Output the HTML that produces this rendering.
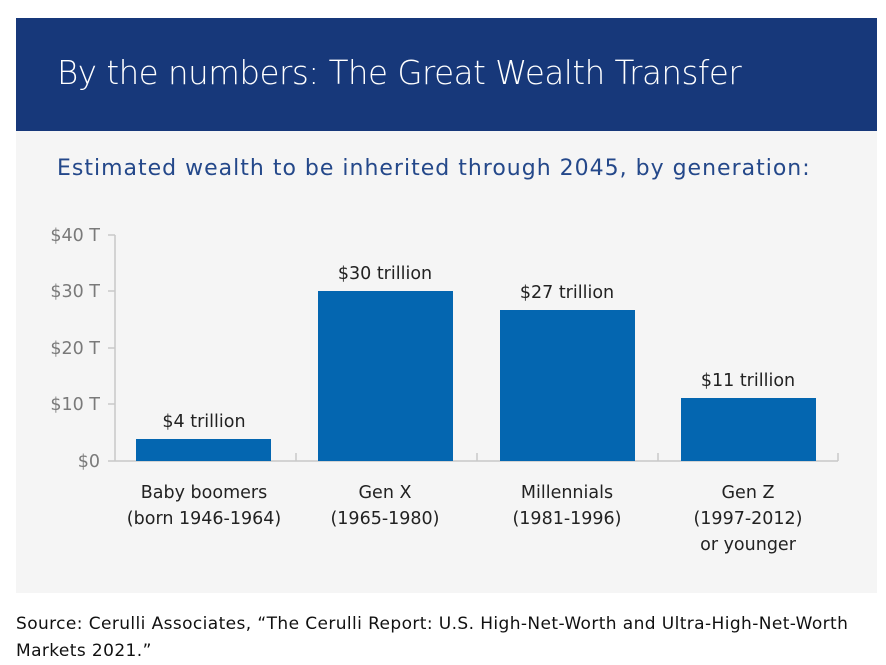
<!DOCTYPE html>
<html><head><style>
body{margin:0;width:886px;height:661px;background:#fff;font-family:"DejaVu Sans","Liberation Sans",sans-serif;position:relative;overflow:hidden}
.hdr{position:absolute;left:16px;top:18px;width:861px;height:113px;background:#17387a}
.hdr div{position:absolute;left:41px;top:36px;color:#fff;font-size:32.5px;font-weight:300;letter-spacing:-0.5px}
.panel{position:absolute;left:16px;top:131px;width:861px;height:462px;background:#f5f5f5}
.sub{position:absolute;left:57px;top:156px;font-size:22px;color:#24488a;letter-spacing:1px}
.src{position:absolute;left:16px;top:611px;font-size:17px;color:#111;line-height:27px;letter-spacing:0.4px}
svg text{font-family:"DejaVu Sans","Liberation Sans",sans-serif}
</style></head><body>
<div class="hdr"><div>By the numbers: The Great Wealth Transfer</div></div>
<div class="panel"></div>
<div class="sub">Estimated wealth to be inherited through 2045, by generation:</div>
<svg width="886" height="661" style="position:absolute;left:0;top:0">
<g stroke="#c8c8c8" stroke-width="1.5" fill="none">
<line x1="115" y1="235" x2="115" y2="461"/>
<line x1="108" y1="461" x2="838" y2="461"/>
<line x1="108" y1="235" x2="115" y2="235"/>
<line x1="108" y1="291" x2="115" y2="291"/>
<line x1="108" y1="348" x2="115" y2="348"/>
<line x1="108" y1="404" x2="115" y2="404"/>
<line x1="296" y1="453" x2="296" y2="461"/>
<line x1="477" y1="453" x2="477" y2="461"/>
<line x1="658" y1="453" x2="658" y2="461"/>
<line x1="838" y1="453" x2="838" y2="461"/>
</g>
<g fill="#7a7a7a" font-size="17.5" text-anchor="end">
<text x="100" y="241">$40 T</text>
<text x="100" y="297">$30 T</text>
<text x="100" y="354">$20 T</text>
<text x="100" y="410">$10 T</text>
<text x="100" y="467">$0</text>
</g>
<g fill="#0466b0">
<rect x="136" y="439" width="135" height="22"/>
<rect x="318" y="291" width="135" height="170"/>
<rect x="500" y="310" width="135" height="151"/>
<rect x="681" y="398" width="135" height="63"/>
</g>
<g fill="#222" font-size="17.5" text-anchor="middle">
<text x="204" y="427">$4 trillion</text>
<text x="385" y="279">$30 trillion</text>
<text x="567" y="298">$27 trillion</text>
<text x="748" y="386">$11 trillion</text>
<text x="204" y="498">Baby boomers</text>
<text x="204" y="524">(born 1946-1964)</text>
<text x="385" y="498">Gen X</text>
<text x="385" y="524">(1965-1980)</text>
<text x="567" y="498">Millennials</text>
<text x="567" y="524">(1981-1996)</text>
<text x="748" y="498">Gen Z</text>
<text x="748" y="524">(1997-2012)</text>
<text x="748" y="550">or younger</text>
</g>
</svg>
<div class="src">Source: Cerulli Associates, “The Cerulli Report: U.S. High-Net-Worth and Ultra-High-Net-Worth<br>Markets 2021.”</div>
</body></html>
